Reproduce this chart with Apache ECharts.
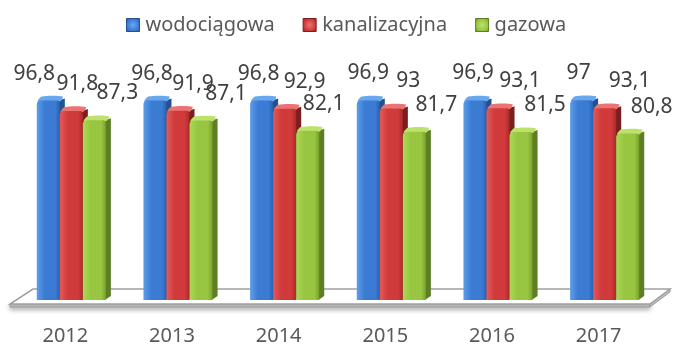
<!DOCTYPE html>
<html>
<head>
<meta charset="utf-8">
<script src="https://cdn.jsdelivr.net/npm/echarts@6/dist/echarts.min.js"></script>
<style>
  html, body { margin: 0; padding: 0; background: #fff; }
  #chart { width: 675px; height: 346px; }
</style>
</head>
<body>
<div id="chart"></div>
<script>
// Years on the category axis
const years = ['2012', '2013', '2014', '2015', '2016', '2017'];

// Network coverage per year (%)
const wodociagowa = [96.8, 96.8, 96.8, 96.9, 96.9, 97];
const kanalizacyjna = [91.8, 91.9, 92.9, 93, 93.1, 93.1];
const gazowa = [87.3, 87.1, 82.1, 81.7, 81.5, 80.8];

const seriesNames = ['wodociągowa', 'kanalizacyjna', 'gazowa'];

// Horizontal nudges of the value labels (px), per series and year
const labelShift = [
  [-14, -3, -3, 0, -2, -3],
  [6, 15, 20, 17, 22, 25],
  [23, 25, 16, 22, 24, 24]
];

// Face colours for the pseudo-3D columns: [left, middle, right, side, top]
const palette = [
  ['#5d9de8', '#3b7bd4', '#2d5fae', '#23508f', '#6aa8ee'],
  ['#e35a5a', '#d03a3a', '#a82a2a', '#7d1e1e', '#ea7474'],
  ['#acd856', '#98c640', '#77a02d', '#5e7e23', '#bde26c']
];

const FONT = '"Noto Sans", "Open Sans", sans-serif';

function hGrad(c) {
  return new echarts.graphic.LinearGradient(0, 0, 1, 0, [
    { offset: 0, color: c[0] },
    { offset: 0.35, color: c[1] },
    { offset: 0.8, color: c[1] },
    { offset: 1, color: c[2] }
  ]);
}

function fmt(v) { return String(v).replace('.', ','); }

// One column: right side face, top cap, front face and its value label
function renderColumn(params, api) {
  const s = params.seriesIndex;
  const i = api.value(0);
  const v = api.value(1);
  const top = api.coord([i, v]);
  const base = api.coord([i, 0]);
  const band = api.size([1, 0])[0];
  const w = band * 0.216;
  const x0 = top[0] - 1.5 * w + s * w;
  const dx = 5, dy = 4;
  const c = palette[s];
  const ty = top[1], by = base[1];
  return {
    type: 'group',
    children: [
      {
        type: 'polygon',
        shape: { points: [[x0 + w - 1, ty], [x0 + w + dx, ty - dy + 2], [x0 + w + dx, by - dy], [x0 + w - 1, by]] },
        style: { fill: c[3] }
      },
      {
        type: 'polygon',
        shape: { points: [[x0 + 1, ty + 1], [x0 + dx, ty - dy], [x0 + w + dx - 2, ty - dy], [x0 + w, ty + 1]], smooth: 0.25 },
        style: { fill: c[4] }
      },
      {
        type: 'rect',
        shape: { x: x0, y: ty, width: w, height: by - ty, r: [4, 3, 0, 0] },
        style: { fill: hGrad(c) }
      },
      {
        type: 'text',
        z2: 10,
        style: {
          text: fmt(v),
          x: x0 + w / 2 + labelShift[s][i],
          y: ty - 27,
          align: 'center',
          verticalAlign: 'middle',
          font: '21px ' + FONT,
          fill: '#404040'
        }
      }
    ]
  };
}

// Slab-shaped floor under the columns, built from the grid rectangle
function renderFloor(params, api) {
  const cs = params.coordSys;
  const by = api.coord([0, 0])[1];
  const L = cs.x, R = cs.x + cs.width;
  const backY = by - 11, frontY = by + 4, t = 3;
  const bl = [L + 15, backY], br = [R + 12, backY];
  const fl = [L - 8, frontY], fr = [R - 8, frontY];
  return {
    type: 'group',
    children: [
      {
        type: 'polygon',
        shape: { points: [fl, fr, [fr[0], fr[1] + t], [fl[0], fl[1] + t]] },
        style: { fill: '#c8c8c8', stroke: '#9a9a9a', lineWidth: 1, shadowBlur: 5, shadowColor: 'rgba(0,0,0,0.35)', shadowOffsetY: 2 }
      },
      {
        type: 'polygon',
        shape: { points: [fr, br, [br[0], br[1] + t], [fr[0], fr[1] + t]] },
        style: { fill: '#bdbdbd', stroke: '#9a9a9a', lineWidth: 1 }
      },
      {
        type: 'polygon',
        shape: { points: [bl, br, fr, fl] },
        style: { fill: '#ffffff', stroke: '#a0a0a0', lineWidth: 1.5 }
      }
    ]
  };
}

function legendIcon(c) {
  return new echarts.graphic.RadialGradient(0.5, 0.5, 0.7, [
    { offset: 0, color: c[4] },
    { offset: 0.6, color: c[1] },
    { offset: 1, color: c[3] }
  ]);
}

const chart = echarts.init(document.getElementById('chart'), null, { renderer: 'canvas' });

const columnSeries = [wodociagowa, kanalizacyjna, gazowa].map((vals, s) => ({
  name: seriesNames[s],
  type: 'custom',
  z: 3,
  itemStyle: { color: palette[s][1] },
  renderItem: renderColumn,
  encode: { x: 0, y: 1 },
  data: vals.map((v, i) => [i, v])
}));

chart.setOption({
  animation: false,
  textStyle: { fontFamily: FONT },
  legend: {
    left: 121,
    top: 10,
    itemWidth: 13,
    itemHeight: 13,
    itemGap: 28,
    icon: 'rect',
    textStyle: { fontSize: 20, color: '#595959', fontFamily: FONT, padding: [0, 0, 0, 1] },
    data: seriesNames.map((n, s) => ({
      name: n,
      itemStyle: { color: legendIcon(palette[s]), borderColor: palette[s][3], borderWidth: 1 }
    }))
  },
  grid: { left: 18, right: 17, top: 94, bottom: 46 },
  xAxis: {
    type: 'category',
    data: years,
    axisLine: { show: false },
    axisTick: { show: false },
    axisLabel: {
      margin: 26,
      fontSize: 20,
      color: '#595959',
      fontFamily: FONT,
      padding: [0, 12, 0, 0]
    }
  },
  yAxis: {
    type: 'value',
    min: 0,
    max: 100,
    show: false,
    splitLine: { show: false }
  },
  series: columnSeries.concat([
    {
      name: 'floor',
      type: 'custom',
      z: 1,
      silent: true,
      renderItem: renderFloor,
      data: [[0, 0]]
    }
  ])
});
</script>
</body>
</html>
